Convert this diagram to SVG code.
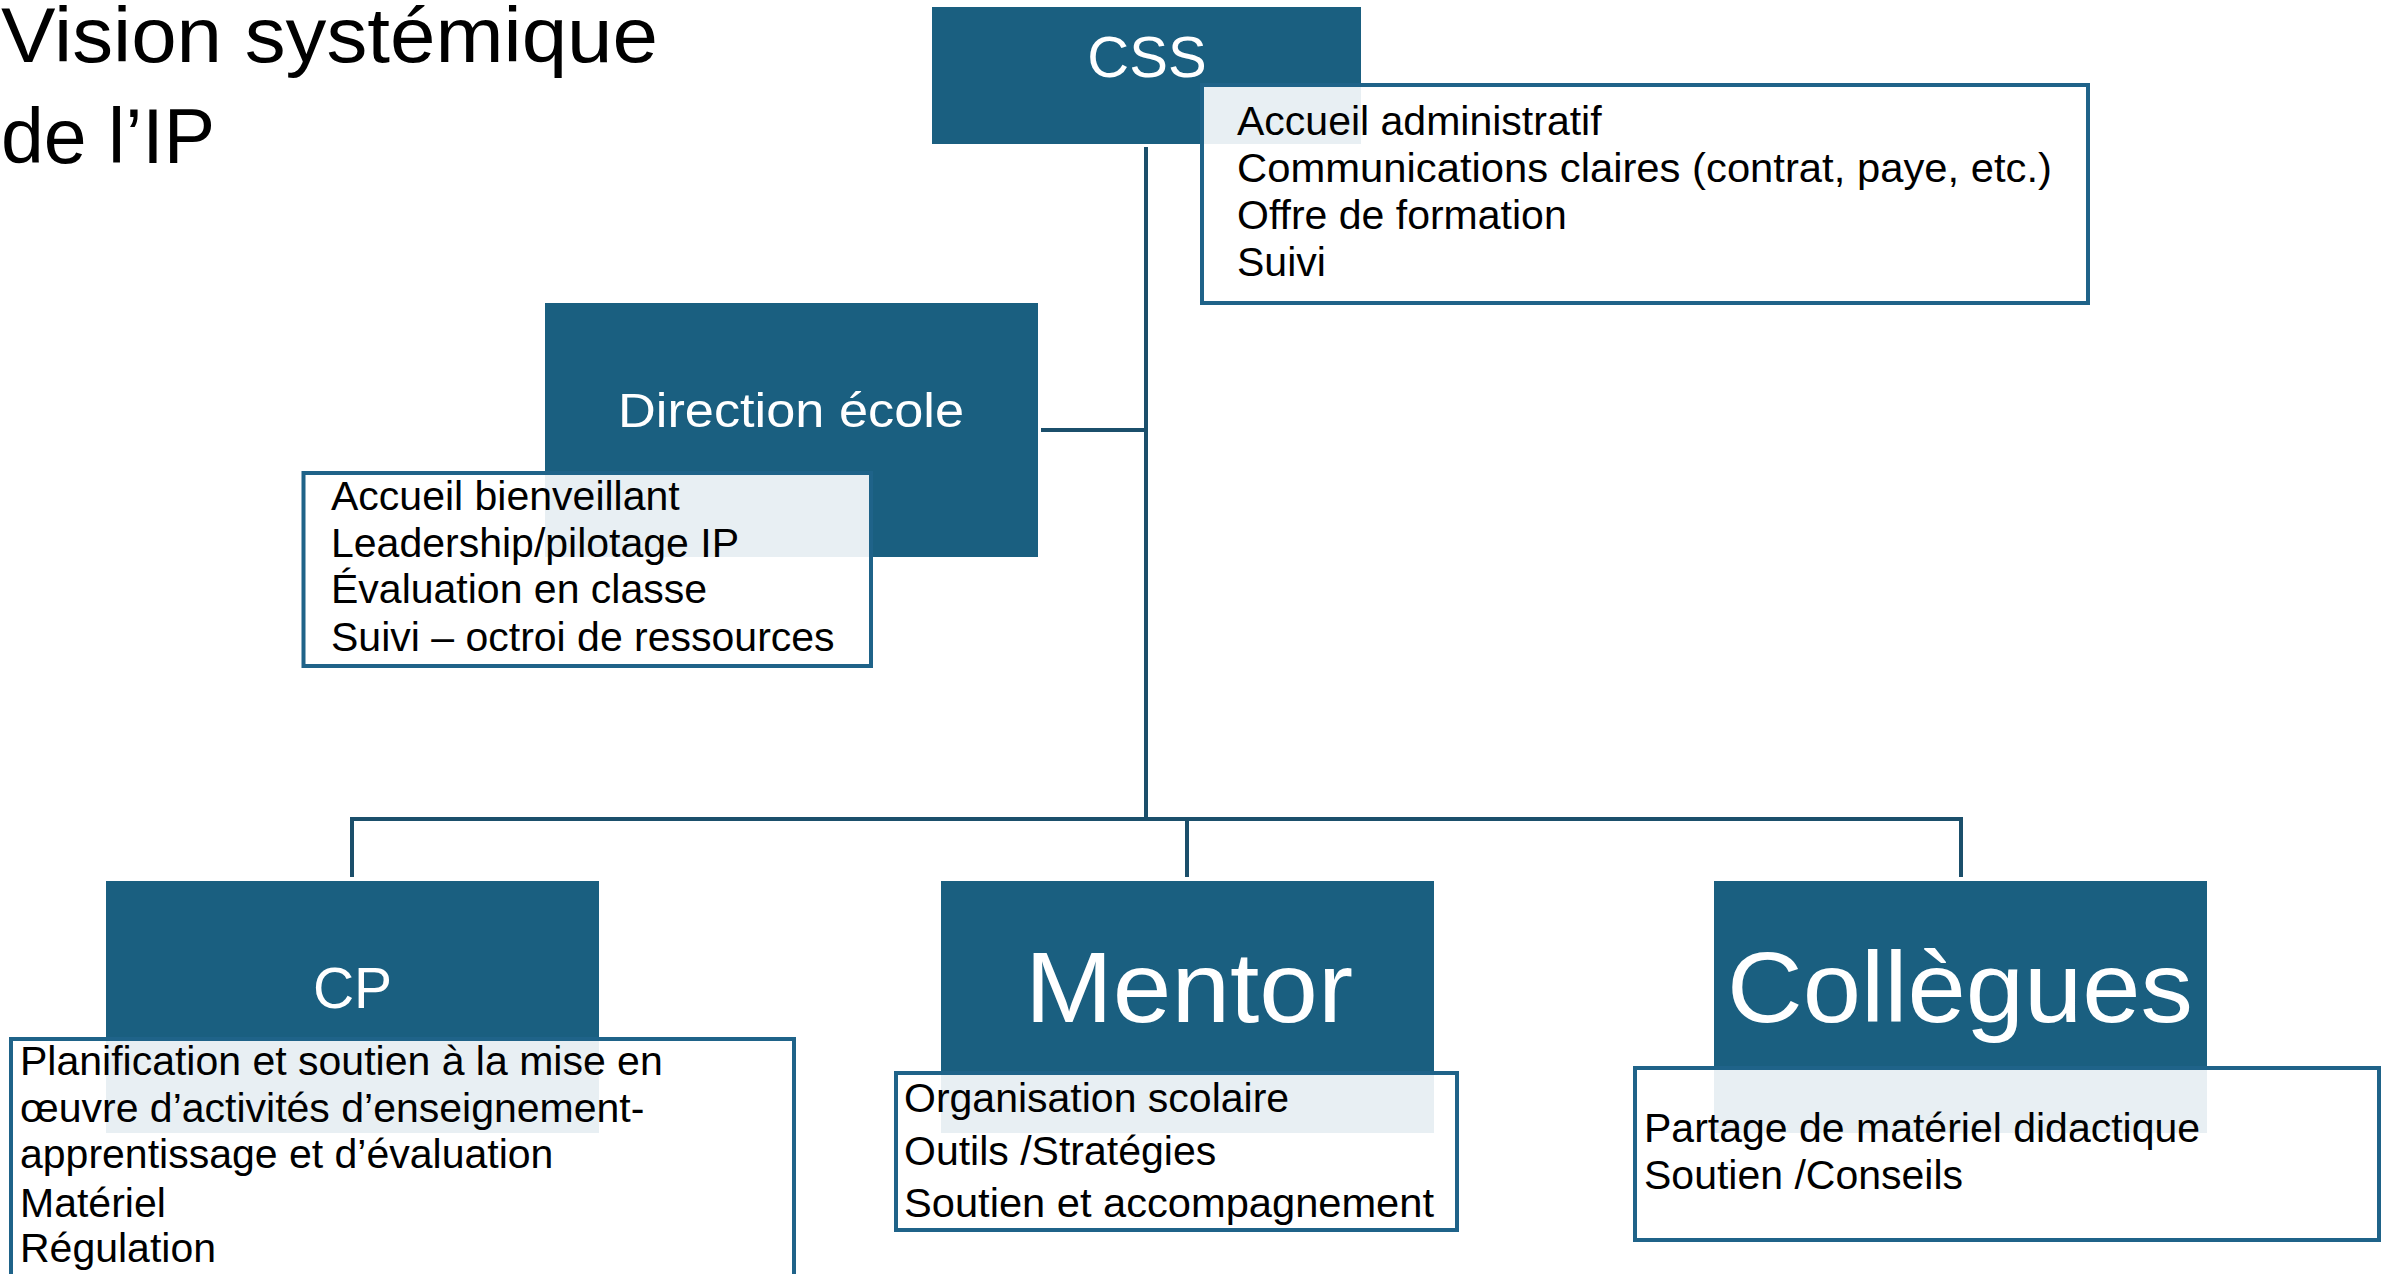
<svg xmlns="http://www.w3.org/2000/svg" width="2390" height="1274" viewBox="0 0 2390 1274">
<style>
  .box { fill: #1A5F80; }
  .desc { fill: #FFFFFF; fill-opacity: 0.9; stroke: #1F6389; stroke-width: 4; }
  .lbl { font-family: "Liberation Sans", Arial, sans-serif; fill: #FFFFFF; text-anchor: middle; }
  .txt { font-family: "Liberation Sans", Arial, sans-serif; font-size: 41px; fill: #000000; }
  .title { font-family: "Liberation Sans", Arial, sans-serif; font-size: 77px; fill: #000000; }
  .conn { stroke: #1B4F6B; stroke-width: 4; fill: none; }
</style>
<rect x="0" y="0" width="2390" height="1274" fill="#FFFFFF"/>
<g id="title">
  <text class="title" x="1" y="62" textLength="657" lengthAdjust="spacingAndGlyphs">Vision systémique</text>
  <text class="title" x="1" y="163">de l’IP</text>
</g>
<g id="connectors">
  <line class="conn" x1="1146" y1="147" x2="1146" y2="821"/>
  <line class="conn" x1="1041" y1="430" x2="1146" y2="430"/>
  <line class="conn" x1="350" y1="819" x2="1963" y2="819"/>
  <line class="conn" x1="352" y1="817" x2="352" y2="877"/>
  <line class="conn" x1="1187" y1="819" x2="1187" y2="877"/>
  <line class="conn" x1="1961" y1="817" x2="1961" y2="877"/>
</g>
<g id="css">
  <rect class="box" x="932" y="7" width="429" height="137"/>
  <text class="lbl" x="1147" y="77" font-size="58">CSS</text>
  <rect class="desc" x="1202" y="85" width="886" height="218"/>
  <text class="txt" x="1237" y="135">Accueil administratif</text>
  <text class="txt" x="1237" y="182" textLength="815" lengthAdjust="spacingAndGlyphs">Communications claires (contrat, paye, etc.)</text>
  <text class="txt" x="1237" y="229">Offre de formation</text>
  <text class="txt" x="1237" y="276">Suivi</text>
</g>
<g id="direction">
  <rect class="box" x="545" y="303" width="493" height="254"/>
  <text class="lbl" x="791" y="427" font-size="49" textLength="346" lengthAdjust="spacingAndGlyphs">Direction école</text>
  <rect class="desc" x="303.5" y="473" width="567.5" height="193"/>
  <text class="txt" x="331" y="510">Accueil bienveillant</text>
  <text class="txt" x="331" y="557">Leadership/pilotage IP</text>
  <text class="txt" x="331" y="603">Évaluation en classe</text>
  <text class="txt" x="331" y="651">Suivi – octroi de ressources</text>
</g>
<g id="cp">
  <rect class="box" x="106" y="881" width="493" height="252"/>
  <text class="lbl" x="352.5" y="1008" font-size="57">CP</text>
  <rect class="desc" x="11" y="1039" width="783" height="300"/>
  <text class="txt" x="20" y="1075">Planification et soutien à la mise en</text>
  <text class="txt" x="20" y="1122">œuvre d’activités d’enseignement-</text>
  <text class="txt" x="20" y="1168">apprentissage et d’évaluation</text>
  <text class="txt" x="20" y="1217">Matériel</text>
  <text class="txt" x="20" y="1262">Régulation</text>
</g>
<g id="mentor">
  <rect class="box" x="941" y="881" width="493" height="252"/>
  <text class="lbl" x="1189" y="1022" font-size="100" textLength="328" lengthAdjust="spacingAndGlyphs">Mentor</text>
  <rect class="desc" x="896" y="1073" width="561" height="157"/>
  <text class="txt" x="904" y="1112">Organisation scolaire</text>
  <text class="txt" x="904" y="1165">Outils /Stratégies</text>
  <text class="txt" x="904" y="1217" textLength="530" lengthAdjust="spacingAndGlyphs">Soutien et accompagnement</text>
</g>
<g id="collegues">
  <rect class="box" x="1714" y="881" width="493" height="252"/>
  <text class="lbl" x="1960" y="1022" font-size="100" textLength="466" lengthAdjust="spacingAndGlyphs">Collègues</text>
  <rect class="desc" x="1635" y="1068" width="744" height="172"/>
  <text class="txt" x="1644" y="1142">Partage de matériel didactique</text>
  <text class="txt" x="1644" y="1189">Soutien /Conseils</text>
</g>
</svg>
